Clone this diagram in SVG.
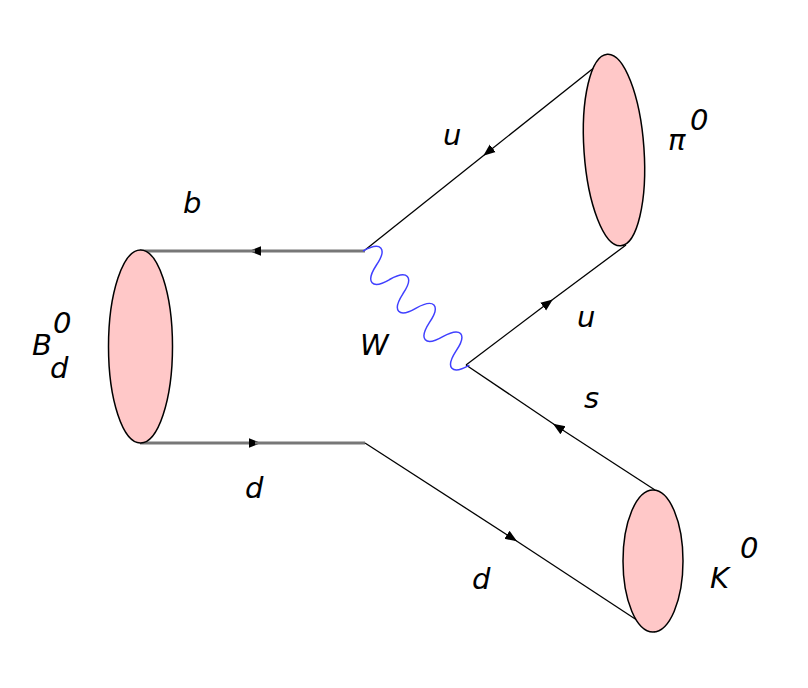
<svg xmlns="http://www.w3.org/2000/svg" width="808" height="688" viewBox="0 0 808 688">
<style>
.blob{fill:#ffc8c8;stroke:#000;stroke-width:1.5}
.q{stroke:#000;stroke-width:1.3;fill:none}
.g{stroke:#777;stroke-width:3;fill:none}
.t{font-family:"DejaVu Sans",sans-serif;font-style:italic;font-size:29px;fill:#000}
</style>
<defs>
<marker id="a" viewBox="0 0 10 10" refX="5" refY="5" markerWidth="12" markerHeight="12" markerUnits="userSpaceOnUse" orient="auto"><path d="M0,1 L10,5 L0,9 Z" fill="#000"/></marker>
</defs>
<rect width="808" height="688" fill="#fff"/>
<g id="connectors">
<path class="g" d="M365,251 L255,251" marker-end="url(#a)"/><path class="g" d="M255,251 L140,251"/>
<path class="g" d="M140,443 L255,443" marker-end="url(#a)"/><path class="g" d="M255,443 L365,443"/>
<path class="q" d="M610,55 L488,152" marker-end="url(#a)"/><path class="q" d="M488,152 L365,250"/>
<path class="q" d="M466,365 L548,303" marker-end="url(#a)"/><path class="q" d="M548,303 L626,245"/>
<path class="q" d="M655,490 L558,427" marker-end="url(#a)"/><path class="q" d="M558,427 L466,365"/>
<path class="q" d="M365,443 L512,538" marker-end="url(#a)"/><path class="q" d="M512,538 L655,632"/>
<path d="M0,0 c5,-20 15,-20 19.5,0 c5,20 15,20 19.5,0 c5,-20 15,-20 19.5,0 c5,20 15,20 19.5,0 c5,-20 15,-20 19.5,0 c5,20 15,20 19.5,0 c5,-20 15,-20 19.5,0 c5,20 15,20 19.5,0" transform="translate(363,251) rotate(47)" fill="none" stroke="#4040ff" stroke-width="1.5"/>
</g>
<g id="Bd"><ellipse class="blob" cx="140.5" cy="346.5" rx="32" ry="96.5"/></g>
<g id="pi"><ellipse class="blob" cx="614" cy="150" rx="30" ry="96" transform="rotate(-4 614 150)"/></g>
<g id="K"><ellipse class="blob" cx="653" cy="561" rx="30" ry="71"/></g>
<g id="labels">
<text class="t" x="183" y="213">b</text>
<text class="t" x="443" y="145">u</text>
<text class="t" x="668" y="150">π</text><text class="t" x="690" y="130" font-size="25">0</text>
<text class="t" x="360" y="355">W</text>
<text class="t" x="577" y="327">u</text>
<text class="t" x="584" y="408">s</text>
<text class="t" x="32" y="355">B</text><text class="t" x="53" y="333" font-size="25">0</text><text class="t" x="50" y="378" font-size="27">d</text>
<text class="t" x="245" y="498">d</text>
<text class="t" x="472" y="589">d</text>
<text class="t" x="710" y="588">K</text><text class="t" x="740" y="558" font-size="25">0</text>
</g>
</svg>
